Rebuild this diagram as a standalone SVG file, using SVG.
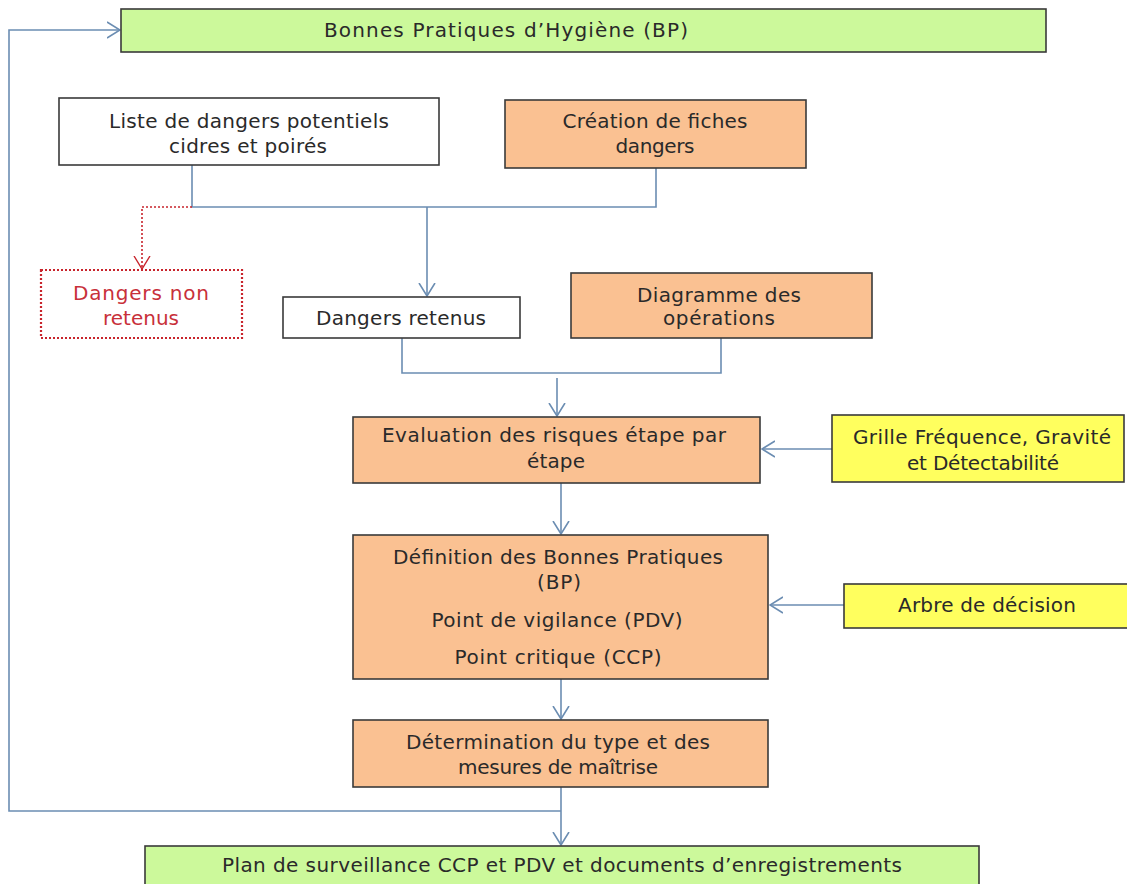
<svg xmlns="http://www.w3.org/2000/svg" width="1127" height="884" viewBox="0 0 1127 884">
<style>
  .box { stroke: #3a3a3a; stroke-width: 1.6; }
  .green { fill: #ccf99b; }
  .orange { fill: #fac192; }
  .yellow { fill: #ffff5e; }
  .white { fill: #ffffff; }
  .red { fill: #ffffff; stroke: #c8242c; stroke-width: 2.2; stroke-dasharray: 2 2; }
  text { font-family: "DejaVu Sans", Verdana, sans-serif; font-size: 20px; fill: #2a2a2a; text-anchor: middle; }
  .rt { fill: #c8303a; }
  .conn { fill: none; stroke: #6b8db2; stroke-width: 1.6; }
  .dot { fill: none; stroke: #c8242c; stroke-width: 1.6; stroke-dasharray: 2 2; }
</style>
<defs>
  <marker id="arr" viewBox="0 0 14 18" refX="13" refY="9" markerWidth="14" markerHeight="18" markerUnits="userSpaceOnUse" orient="auto">
    <path d="M0,1 L13,9 L0,17" fill="none" stroke="#6b8db2" stroke-width="1.6"/>
  </marker>
  <marker id="arrR" viewBox="0 0 14 18" refX="13" refY="9" markerWidth="14" markerHeight="18" markerUnits="userSpaceOnUse" orient="auto">
    <path d="M0,1 L13,9 L0,17" fill="none" stroke="#c8242c" stroke-width="1.4"/>
  </marker>
</defs>
<rect width="1127" height="884" fill="#ffffff"/>

<g id="connectors">
  <path class="conn" d="M561,811 H9 V30 H120" marker-end="url(#arr)"/>
  <path class="conn" d="M192,165 V207 H656 V168"/>
  <path class="conn" d="M427,207 V296" marker-end="url(#arr)"/>
  <path class="dot" d="M192,207 H142 V269" marker-end="url(#arrR)"/>
  <path class="conn" d="M402,338 V373 H721 V338"/>
  <path class="conn" d="M557,378 V416" marker-end="url(#arr)"/>
  <path class="conn" d="M561,483 V534" marker-end="url(#arr)"/>
  <path class="conn" d="M832,449 H762" marker-end="url(#arr)"/>
  <path class="conn" d="M561,679 V719" marker-end="url(#arr)"/>
  <path class="conn" d="M844,605 H770" marker-end="url(#arr)"/>
  <path class="conn" d="M561,787 V845" marker-end="url(#arr)"/>
</g>

<g id="bp">
  <rect class="box green" x="121" y="9" width="925" height="43"/>
  <text x="506" y="37" textLength="364" lengthAdjust="spacing">Bonnes Pratiques d’Hygiène (BP)</text>
</g>

<g id="liste">
  <rect class="box white" x="59" y="98" width="380" height="67"/>
  <text x="249" y="128" textLength="280" lengthAdjust="spacing">Liste de dangers potentiels</text>
  <text x="248" y="153" textLength="158" lengthAdjust="spacing">cidres et poirés</text>
</g>

<g id="creation">
  <rect class="box orange" x="505" y="100" width="301" height="68"/>
  <text x="655" y="128" textLength="185" lengthAdjust="spacing">Création de fiches</text>
  <text x="655" y="153" textLength="79" lengthAdjust="spacing">dangers</text>
</g>

<g id="non-retenus">
  <rect class="red" x="41" y="270" width="201" height="68"/>
  <text class="rt" x="141" y="300" textLength="136" lengthAdjust="spacing">Dangers non</text>
  <text class="rt" x="141" y="325" textLength="76" lengthAdjust="spacing">retenus</text>
</g>

<g id="retenus">
  <rect class="box white" x="283" y="297" width="237" height="41"/>
  <text x="401" y="325" textLength="170" lengthAdjust="spacing">Dangers retenus</text>
</g>

<g id="diagramme">
  <rect class="box orange" x="571" y="273" width="301" height="65"/>
  <text x="719" y="302" textLength="164" lengthAdjust="spacing">Diagramme des</text>
  <text x="719" y="325" textLength="112" lengthAdjust="spacing">opérations</text>
</g>

<g id="evaluation">
  <rect class="box orange" x="353" y="417" width="407" height="66"/>
  <text x="554" y="442" textLength="344" lengthAdjust="spacing">Evaluation des risques étape par</text>
  <text x="556" y="468" textLength="58" lengthAdjust="spacing">étape</text>
</g>

<g id="grille">
  <rect class="box yellow" x="832" y="415" width="292" height="67"/>
  <text x="982" y="444" textLength="258" lengthAdjust="spacing">Grille Fréquence, Gravité</text>
  <text x="983" y="470" textLength="152" lengthAdjust="spacing">et Détectabilité</text>
</g>

<g id="definition">
  <rect class="box orange" x="353" y="535" width="415" height="144"/>
  <text x="558" y="564" textLength="330" lengthAdjust="spacing">Définition des Bonnes Pratiques</text>
  <text x="559" y="589" textLength="44" lengthAdjust="spacing">(BP)</text>
  <text x="557" y="627" textLength="251" lengthAdjust="spacing">Point de vigilance (PDV)</text>
  <text x="558" y="664" textLength="207" lengthAdjust="spacing">Point critique (CCP)</text>
</g>

<g id="arbre">
  <rect class="box yellow" x="844" y="584" width="290" height="44"/>
  <text x="987" y="612" textLength="178" lengthAdjust="spacing">Arbre de décision</text>
</g>

<g id="determination">
  <rect class="box orange" x="353" y="720" width="415" height="67"/>
  <text x="558" y="749" textLength="304" lengthAdjust="spacing">Détermination du type et des</text>
  <text x="558" y="774" textLength="200" lengthAdjust="spacing">mesures de maîtrise</text>
</g>

<g id="plan">
  <rect class="box green" x="145" y="846" width="834" height="50"/>
  <text x="562" y="872" textLength="680" lengthAdjust="spacing">Plan de surveillance CCP et PDV et documents d’enregistrements</text>
</g>
</svg>
